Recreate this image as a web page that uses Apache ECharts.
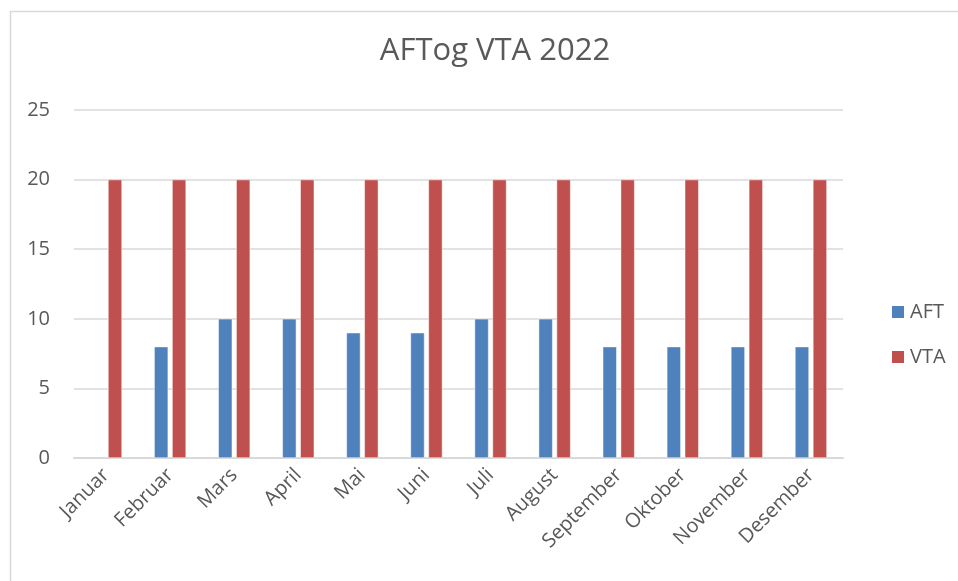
<!DOCTYPE html>
<html>
<head>
<meta charset="utf-8">
<script src="https://cdn.jsdelivr.net/npm/echarts@6/dist/echarts.min.js"></script>
<style>
  html, body { margin: 0; padding: 0; background: #fff; }
  #chart { width: 958px; height: 581px; }
</style>
</head>
<body>
<div id="chart"></div>
<script>
  // data
  var months = ['Januar', 'Februar', 'Mars', 'April', 'Mai', 'Juni', 'Juli', 'August', 'September', 'Oktober', 'November', 'Desember'];
  var aft = [null, 8, 10, 10, 9, 9, 10, 10, 8, 8, 8, 8];
  var vta = [20, 20, 20, 20, 20, 20, 20, 20, 20, 20, 20, 20];

  var font = 'Open Sans';
  var chart = echarts.init(document.getElementById('chart'));

  chart.setOption({
    animation: false,
    color: ['#4F81BD', '#C0504D'],
    title: {
      text: 'AFTog VTA 2022',
      left: 490,
      textAlign: 'center',
      top: 31,
      textStyle: { fontFamily: font, fontSize: 31, fontWeight: 'normal', color: '#595959' }
    },
    graphic: [{
      type: 'rect',
      shape: { x: 10.5, y: 11.5, width: 1200, height: 1200 },
      style: { fill: 'none', stroke: '#d9d9d9', lineWidth: 1.5 },
      silent: true
    }],
    legend: {
      orient: 'vertical',
      left: 885,
      top: 297,
      itemWidth: 14,
      itemHeight: 14,
      itemGap: 25,
      icon: 'rect',
      textStyle: { fontFamily: font, fontSize: 20, color: '#595959' },
      data: ['AFT', 'VTA']
    },
    grid: { left: 74, right: 115, top: 110, bottom: 123 },
    xAxis: {
      type: 'category',
      data: months,
      axisLine: { lineStyle: { color: '#d9d9d9', width: 2 } },
      axisTick: { show: false },
      axisLabel: {
        rotate: 45,
        interval: 0,
        margin: 14,
        fontFamily: font,
        fontSize: 20,
        color: '#595959'
      }
    },
    yAxis: {
      type: 'value',
      min: 0,
      max: 25,
      interval: 5,
      axisLine: { show: false },
      axisTick: { show: false },
      splitLine: { lineStyle: { color: '#d9d9d9', width: 1.5 } },
      axisLabel: { fontFamily: font, fontSize: 20, color: '#595959', margin: 24 }
    },
    series: [
      {
        name: 'AFT',
        type: 'bar',
        data: aft,
        barWidth: 14,
        barGap: '28%',
        itemStyle: { borderColor: '#ffffff', borderWidth: 0.5 }
      },
      {
        name: 'VTA',
        type: 'bar',
        data: vta,
        barWidth: 14,
        itemStyle: { borderColor: '#ffffff', borderWidth: 0.5 }
      }
    ]
  });
</script>
</body>
</html>
